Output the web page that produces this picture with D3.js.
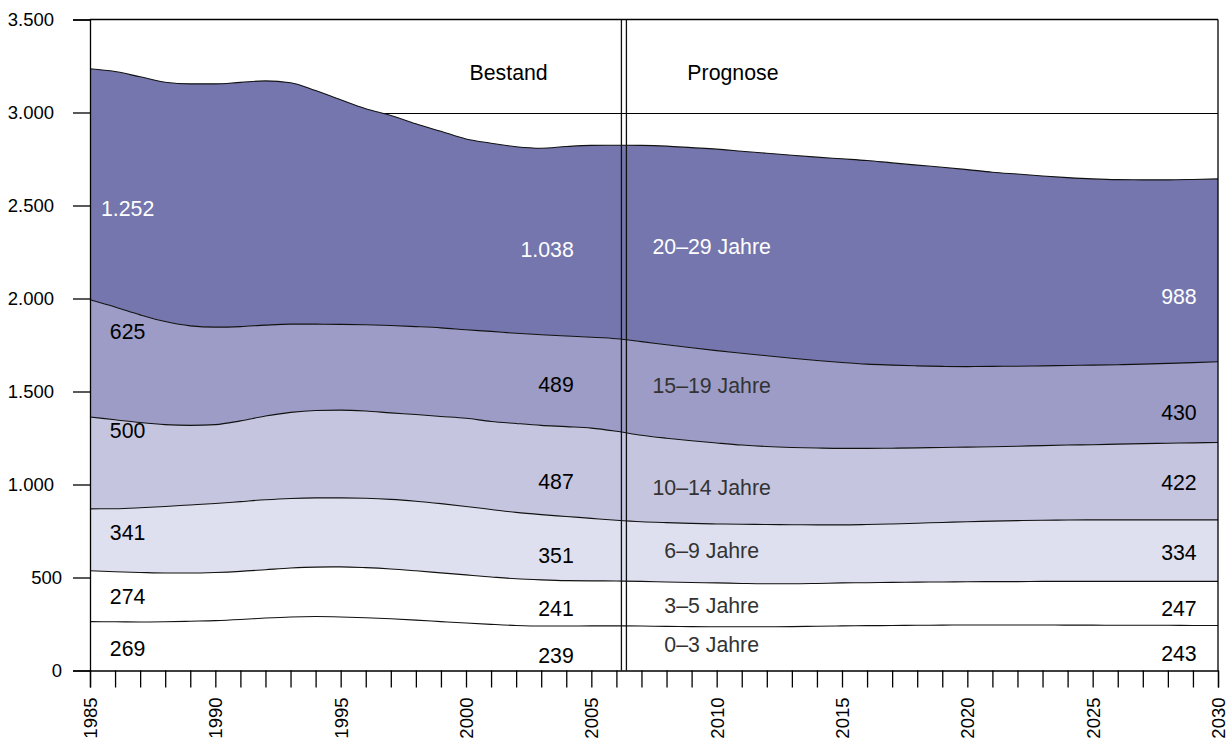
<!DOCTYPE html>
<html><head><meta charset="utf-8">
<script src="https://cdn.jsdelivr.net/npm/d3@7"></script>
<style>
html,body{margin:0;padding:0;background:#fff;}
svg{display:block;font-family:"Liberation Sans",Arial,sans-serif;}
</style></head>
<body><svg id="chart" width="1227" height="740"></svg>
<script>
// ---------------- data ----------------
const years = d3.range(1985, 2031);
const ageGroups = ["0–3 Jahre","3–5 Jahre","6–9 Jahre","10–14 Jahre","15–19 Jahre","20–29 Jahre"];
const age0_3 = [263,262,261,262,265,268,274,282,288,290,288,284,278,271,263,255,248,242,239,239,240,240,239,237,236,235,235,235,236,238,240,241,242,243,244,245,245,245,245,244,244,243,243,243,242,242];
const age3_5 = [273,269,266,262,259,259,259,260,263,266,269,269,268,265,262,259,255,251,248,244,242,241,240,239,237,236,233,231,230,230,231,231,232,232,232,232,233,233,234,235,235,236,236,236,237,237];
const age6_9 = [333,339,348,358,366,371,375,376,374,372,371,373,374,374,372,368,363,357,351,345,336,327,321,319,318,317,318,319,318,315,312,313,314,317,320,323,325,328,329,330,331,331,331,331,331,331];
const age10_14 = [494,478,458,440,428,424,434,450,463,470,472,469,465,466,469,474,473,478,480,483,485,478,465,454,444,435,426,419,415,413,411,409,407,405,403,401,400,400,401,403,404,407,410,412,414,416];
const age15_19 = [630,606,579,554,535,524,507,489,474,464,461,464,470,473,476,476,484,485,487,487,489,498,503,502,500,497,494,488,480,471,462,453,447,441,436,433,432,430,429,428,428,427,427,429,431,434];
const age20_29 = [1242,1266,1280,1287,1301,1308,1313,1313,1298,1256,1207,1161,1129,1090,1057,1026,1012,1003,1003,1019,1031,1040,1055,1068,1076,1083,1086,1089,1091,1093,1095,1095,1087,1079,1071,1059,1044,1033,1021,1010,1001,995,991,987,985,983];
const series = [age0_3, age3_5, age6_9, age10_14, age15_19, age20_29];
const layerColors = ["#ffffff","#ffffff","#dfe0ef","#c5c5df","#9c9cc6","#7476ad"];

const yTicks = [0,500,1000,1500,2000,2500,3000,3500];
const xLabelYears = [1985,1990,1995,2000,2005,2010,2015,2020,2025,2030];
const splitYear = 2006.3;

// value labels: start, end of Bestand, end of Prognose
const leftLabels  = ["269","274","341","500","625","1.252"];
const midLabels   = ["239","241","351","487","489","1.038"];
const rightLabels = ["243","247","334","422","430","988"];
const sectionLabels = ["Bestand","Prognose"];
// vertical placement of the labels (in data units)
const leftLabelY  = [116,396,740,1290,1821,2482];
const midLabelY   = [79,332,617,1015,1536,2262];
const progLabelY  = [138,348,644,982,1531,2278];
const rightLabelY = [90,332,633,1009,1386,2009];

// ---------------- chart ----------------
const svg = d3.select("#chart");
const m = {left:90, right:1218, top:19.5, bottom:670.5};
const x = d3.scaleLinear().domain([1985,2030]).range([m.left, m.right]);
const y = d3.scaleLinear().domain([0,3500]).range([m.bottom, m.top]);

const table = years.map((yr,i)=>{ const o={year:yr}; ageGroups.forEach((g,k)=>o[g]=series[k][i]); return o; });
const stacked = d3.stack().keys(ageGroups)(table);

// gridline at 3000
svg.append("line").attr("x1",m.left).attr("x2",m.right)
  .attr("y1",Math.round(y(3000))+0.5).attr("y2",Math.round(y(3000))+0.5)
  .attr("stroke","#000").attr("stroke-width",1.2);

const area = d3.area().x(d=>x(d.data.year)).y0(d=>y(d[0])).y1(d=>y(d[1])).curve(d3.curveMonotoneX);
const line = d3.line().x(d=>x(d.data.year)).y(d=>y(d[1])).curve(d3.curveMonotoneX);

svg.append("g").selectAll("path").data(stacked).join("path")
  .attr("d",area).attr("fill",(d,i)=>layerColors[i]);
svg.append("g").selectAll("path").data(stacked).join("path")
  .attr("d",line).attr("fill","none").attr("stroke","#111").attr("stroke-width",1.1);

// split lines
[-2.5,2.5].forEach(off=>{
  svg.append("line").attr("x1",x(splitYear)+off).attr("x2",x(splitYear)+off)
    .attr("y1",m.top).attr("y2",m.bottom).attr("stroke","#111").attr("stroke-width",1.3);
});

// frame: top & right
svg.append("line").attr("x1",m.left).attr("x2",m.right).attr("y1",m.top).attr("y2",m.top).attr("stroke","#000").attr("stroke-width",1.3);
svg.append("line").attr("x1",m.right).attr("x2",m.right).attr("y1",m.top).attr("y2",m.bottom).attr("stroke","#000").attr("stroke-width",1.3);

// y axis
const fmt = v => v===0 ? "0" : d3.format(",")(v).replace(/,/g,".");
const yAxis = d3.axisLeft(y).tickValues(yTicks).tickSize(17).tickFormat(fmt);
const gy = svg.append("g").attr("transform",`translate(${m.left},0)`).call(yAxis);
gy.select(".domain").attr("stroke","#000").attr("stroke-width",1.3);
gy.selectAll(".tick line").attr("stroke","#000").attr("stroke-width",1.3);
gy.selectAll(".tick text").attr("font-size",18.5).attr("fill","#000")
  .attr("font-family","Liberation Sans, Arial, sans-serif")
  .attr("x",d=> d>=1000 ? -36 : -28);

// x axis
const xAxis = d3.axisBottom(x).tickValues(years).tickSize(17).tickFormat(d=> xLabelYears.includes(d)? String(d):"");
const gx = svg.append("g").attr("transform",`translate(0,${m.bottom})`).call(xAxis);
gx.select(".domain").attr("stroke","#000").attr("stroke-width",1.3);
gx.selectAll(".tick line").attr("stroke","#000").attr("stroke-width",1.3);
gx.selectAll(".tick text").attr("font-size",18.5).attr("fill","#000")
  .attr("font-family","Liberation Sans, Arial, sans-serif")
  .attr("transform","rotate(-90)").attr("text-anchor","end")
  .attr("x",-27).attr("y",0).attr("dy","0.35em");

// labels
const lab = svg.append("g").attr("font-size",21.3).attr("dominant-baseline","central");
leftLabels.forEach((t,i)=>{
  lab.append("text").attr("x",x(1986.5)).attr("y",y(leftLabelY[i])).attr("text-anchor","middle")
    .attr("fill", i===5?"#fff":"#000").text(t);
});
midLabels.forEach((t,i)=>{
  lab.append("text").attr("x",x(2004.3)).attr("y",y(midLabelY[i])).attr("text-anchor","end")
    .attr("fill", i===5?"#fff":"#000").text(t);
});
ageGroups.forEach((t,i)=>{
  lab.append("text").attr("x",x(2009.8)).attr("y",y(progLabelY[i])).attr("text-anchor","middle")
    .attr("fill", i===5?"#fff":"#333").text(t);
});
rightLabels.forEach((t,i)=>{
  lab.append("text").attr("x",x(2029.15)).attr("y",y(rightLabelY[i])).attr("text-anchor","end")
    .attr("fill", i===5?"#fff":"#000").text(t);
});
lab.append("text").attr("x",x(2001.7)).attr("y",y(3212)).attr("text-anchor","middle").attr("fill","#000").text(sectionLabels[0]);
lab.append("text").attr("x",x(2010.65)).attr("y",y(3212)).attr("text-anchor","middle").attr("fill","#000").text(sectionLabels[1]);
</script>
</body></html>
